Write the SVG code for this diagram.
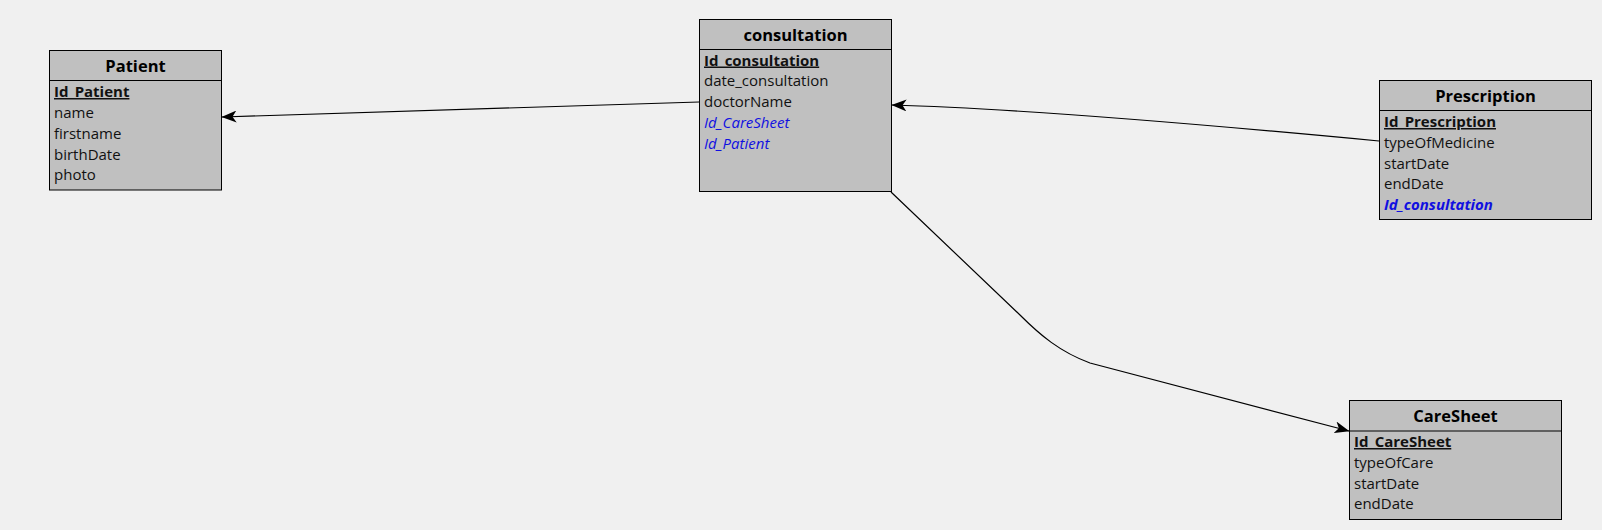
<svg xmlns="http://www.w3.org/2000/svg" width="1602" height="530" viewBox="0 0 1602 530">
<style>
.box{fill:#c0c0c0;stroke:#000;stroke-width:1}
.sep{stroke:#000;stroke-width:1}
.title{font-family:"Open Sans","Liberation Sans",sans-serif;font-size:16.5px;font-weight:bold;fill:#000;text-anchor:middle}
.row{font-family:"Open Sans","Liberation Sans",sans-serif;font-size:15px;fill:#111}
.pk{font-weight:bold;text-decoration:underline}
.fk{fill:#1010e0;font-style:italic}
.fkb{fill:#1010e0;font-style:italic;font-weight:bold}
.conn{fill:none;stroke:#000;stroke-width:1.2}
</style>
<defs>
<marker id="arr" viewBox="0 0 15 12" refX="14.5" refY="6" markerWidth="15" markerHeight="12" markerUnits="userSpaceOnUse" orient="auto">
<path d="M0,0 L15,6 L0,12 L4,6 Z" fill="#000"/>
</marker>
</defs>
<rect width="1602" height="530" fill="#f0f0f0"/>
<g id="connectors">
<path class="conn" d="M699,102 L222,117" marker-end="url(#arr)"/>
<path class="conn" d="M1379,141 C1200,124 1000,108 892,105" marker-end="url(#arr)"/>
<path class="conn" d="M891,192 L1020,315 C1040,335 1060,352 1090,363 L1349,431" marker-end="url(#arr)"/>
</g>
<g id="patient">
<rect class="box" x="49.5" y="50.5" width="172" height="139.5"/>
<line class="sep" x1="49.5" y1="80.5" x2="221.5" y2="80.5"/>
<text class="title" x="135.5" y="72">Patient</text>
<text class="row pk" x="54" y="97">Id_Patient</text>
<text class="row" x="54" y="118">name</text>
<text class="row" x="54" y="138.5">firstname</text>
<text class="row" x="54" y="159.5">birthDate</text>
<text class="row" x="54" y="180">photo</text>
</g>
<g id="consultation">
<rect class="box" x="699.5" y="19.5" width="192" height="172"/>
<line class="sep" x1="699.5" y1="49.5" x2="891.5" y2="49.5"/>
<text class="title" x="795.5" y="41">consultation</text>
<text class="row pk" x="704" y="65.5">Id_consultation</text>
<text class="row" x="704" y="86">date_consultation</text>
<text class="row" x="704" y="107">doctorName</text>
<text class="row fk" x="704" y="128">Id_CareSheet</text>
<text class="row fk" x="704" y="149">Id_Patient</text>
</g>
<g id="prescription">
<rect class="box" x="1379.5" y="80.5" width="212" height="139"/>
<line class="sep" x1="1379.5" y1="110.5" x2="1591.5" y2="110.5"/>
<text class="title" x="1485.5" y="102">Prescription</text>
<text class="row pk" x="1384" y="127">Id_Prescription</text>
<text class="row" x="1384" y="148">typeOfMedicine</text>
<text class="row" x="1384" y="168.5">startDate</text>
<text class="row" x="1384" y="189">endDate</text>
<text class="row fkb" x="1384" y="210">Id_consultation</text>
</g>
<g id="caresheet">
<rect class="box" x="1349.5" y="400.5" width="212" height="119"/>
<line class="sep" x1="1349.5" y1="431" x2="1561.5" y2="431"/>
<text class="title" x="1455.5" y="422">CareSheet</text>
<text class="row pk" x="1354" y="447">Id_CareSheet</text>
<text class="row" x="1354" y="468">typeOfCare</text>
<text class="row" x="1354" y="488.5">startDate</text>
<text class="row" x="1354" y="509">endDate</text>
</g>
</svg>
